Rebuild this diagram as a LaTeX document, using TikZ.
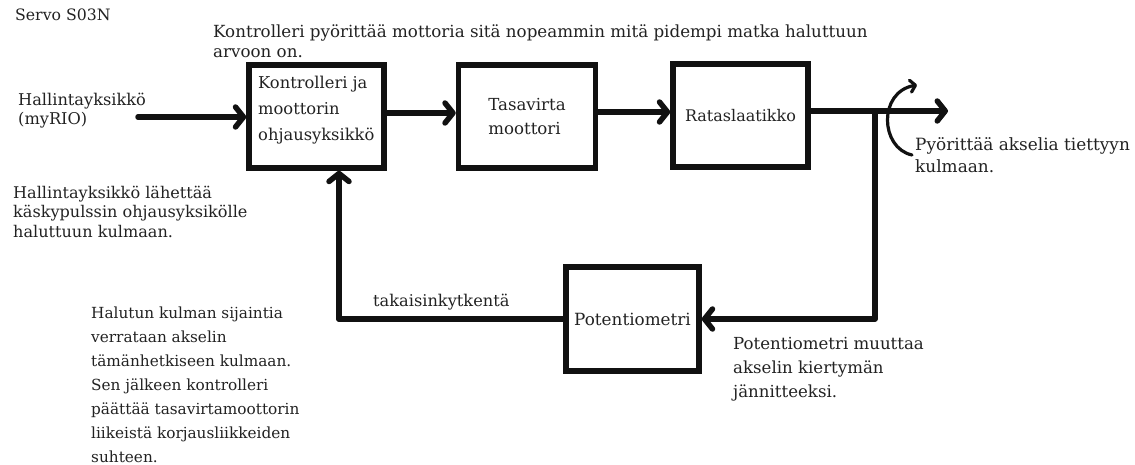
\documentclass[tikz,border=0pt]{standalone}
\usepackage{fontspec}
\setmainfont{DejaVu Serif}
\usetikzlibrary{arrows.meta}
\definecolor{ink}{HTML}{111111}
\definecolor{txt}{HTML}{222222}
\begin{document}
\begin{tikzpicture}[x=1pt,y=-1pt,
  box/.style={draw=ink,line width=5.5pt,line join=miter,inner sep=0pt,fill=none,text=txt},
  conn/.style={draw=ink,line width=5.5pt,line cap=round,line join=round},
  arr/.style={conn,-{Straight Barb[length=8pt,width=20pt,round]}},
  lbl/.style={inner sep=0pt,anchor=base west,align=left,text=txt},
  f/.style 2 args={font=\fontsize{#1}{#2}\selectfont}
]
\useasboundingbox (0,0) rectangle (1135,465);

% boxes
\node[box,minimum width=135pt,minimum height=103pt] (b1) at (316.5,116.5) {};
\node[box,minimum width=137pt,minimum height=103pt,f={16.6}{24},align=left] (b2) at (527,116.5) {Tasavirta\\moottori};
\node[box,minimum width=135pt,minimum height=103pt,f={16}{24}] (b3) at (740.5,115.5) {Rataslaatikko};
\node[box,minimum width=133pt,minimum height=104pt,f={16.8}{24}] (pot) at (632.5,319) {Potentiometri};

% text in box 1 (anchor = baseline of last line)
\node[lbl,f={16.3}{26}] (b1t) at (258,141) {Kontrolleri ja\\moottorin\\ohjausyksikkö};

% free texts (anchor = baseline of last line)
\node[lbl,f={15.7}{20}] (servo) at (15,21) {Servo S03N};
\node[lbl,f={16.7}{20}] (top) at (213,58) {Kontrolleri pyörittää mottoria sitä nopeammin mitä pidempi matka haluttuun\\arvoon on.};
\node[lbl,f={16.2}{19}] (hal) at (18,125) {Hallintayksikkö\\(myRIO)};
\node[lbl,f={16.1}{19.5}] (hall) at (13,237) {Hallintayksikkö lähettää\\käskypulssin ohjausyksikölle\\haluttuun kulmaan.};
\node[lbl,f={16.9}{22}] (pyo) at (915,173) {Pyörittää akselia tiettyyn\\kulmaan.};
\node[lbl,f={16.6}{24}] (potx) at (733,397) {Potentiometri muuttaa\\akselin kiertymän\\jännitteeksi.};
\node[lbl,f={16.2}{24}] (tak) at (373,306) {takaisinkytkentä};
\node[lbl,f={15.3}{24}] (halu) at (91,462) {Halutun kulman sijaintia\\verrataan akselin\\tämänhetkiseen kulmaan.\\Sen jälkeen kontrolleri\\päättää tasavirtamoottorin\\liikeistä korjausliikkeiden\\suhteen.};

% coordinates
\coordinate (in) at (138,117);
\coordinate (out) at (948,111);
\coordinate (j) at (875,111);
\coordinate (fb) at (339,319);
\coordinate (r0) at (912,155);
\coordinate (r1) at (917,85);

% connectors
\draw[arr] (in) -- (in -| b1.west);
\draw[arr] ([yshift=3.5pt]b1.east) -- ([yshift=3.5pt]b2.west);
\draw[arr] ([yshift=4.5pt]b2.east) -- ([yshift=3.5pt]b3.west);
\draw[arr] (out -| b3.east) -- (out);
\draw[arr] (j) |- (pot.east);
\draw[conn] (pot.west) -- (fb);
\draw[arr] (fb) -- (fb |- b1.south);
\draw[draw=ink,line width=3.2pt,line cap=round,-{Straight Barb[length=5pt,width=12pt,round]}]
  (r0) .. controls (880,148) and (878,92) .. (r1);
\end{tikzpicture}
\end{document}
